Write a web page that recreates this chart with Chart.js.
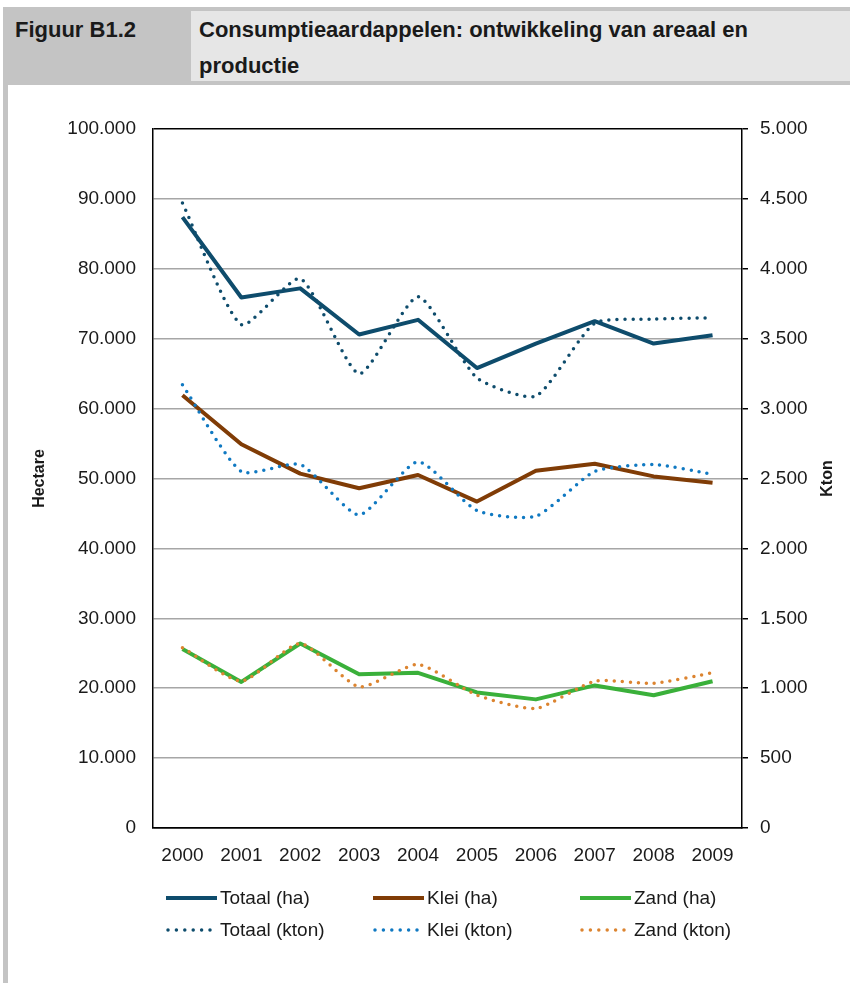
<!DOCTYPE html>
<html>
<head>
<meta charset="utf-8">
<script src="https://cdn.jsdelivr.net/npm/chart.js@4.4.1/dist/chart.umd.min.js"></script>
<style>
  body { margin: 0; width: 850px; height: 983px; overflow: hidden; background: #fff; position: relative;
         font-family: "Liberation Sans", Arial, sans-serif; color: #1a1a1a; }
  #wrap { position: absolute; left: 0; top: 0; width: 850px; height: 983px; }
  .hdr { position: absolute; left: 3px; top: 7px; width: 847px; height: 78px; background: #c4c4c4; }
  .hdr-cell { position: absolute; left: 191px; top: 11px; width: 659px; height: 70px; background: #e6e6e6; }
  .side { position: absolute; left: 3px; top: 85px; width: 5px; height: 898px; background: #c4c4c4; }
  .htxt { position: absolute; top: 12px; font-weight: bold; font-size: 22px; line-height: 35.5px; color: #1a1a1a; white-space: nowrap; }
  #legend { position: absolute; left: 166px; top: 882px; display: grid; grid-template-columns: repeat(3, 207px);
            grid-auto-rows: 32px; align-items: center; font-size: 19px; }
  #legend .item { display: flex; align-items: center; }
  #legend svg { display: block; }
</style>
</head>
<body>
<div id="wrap"><canvas id="chart" width="850" height="983"></canvas></div>
<div class="hdr"></div>
<div class="hdr-cell"></div>
<div class="side"></div>
<div class="htxt" style="left:15px">Figuur B1.2</div>
<div class="htxt" style="left:199px">Consumptieaardappelen: ontwikkeling van areaal en<br>productie</div>
<div id="legend"></div>
<script>
// data
const years = ['2000', '2001', '2002', '2003', '2004', '2005', '2006', '2007', '2008', '2009'];
const totaalHa = [87400, 75900, 77200, 70600, 72700, 65800, 69300, 72500, 69300, 70500];
const kleiHa = [61900, 54900, 50700, 48600, 50500, 46700, 51100, 52100, 50300, 49400];
const zandHa = [25600, 20900, 26400, 22000, 22200, 19400, 18400, 20400, 19000, 21000];
const totaalKton = [4470, 3600, 3930, 3250, 3800, 3220, 3090, 3610, 3640, 3650];
const kleiKton = [3170, 2550, 2600, 2240, 2620, 2270, 2230, 2550, 2600, 2530];
const zandKton = [1290, 1050, 1320, 1010, 1170, 950, 855, 1050, 1035, 1110];

const fmt = v => String(v).replace(/\B(?=(\d{3})+(?!\d))/g, '.');

function solid(label, data, color) {
  return { label, data, borderColor: color, backgroundColor: color, borderWidth: 4,
           pointRadius: 0, tension: 0, borderJoinStyle: 'round', yAxisID: 'y', order: 2 };
}
function dotted(label, data, color) {
  return { label, data, borderColor: color, backgroundColor: color, borderWidth: 3.5,
           borderDash: [0, 8], borderCapStyle: 'round', pointRadius: 0, tension: 0.2,
           yAxisID: 'y2', order: 1 };
}

Chart.defaults.font.family = '"Liberation Sans", Arial, sans-serif';
Chart.defaults.color = '#1a1a1a';

const axisTitles = {
  id: 'axisTitles',
  afterDraw(chart) {
    const { ctx, chartArea } = chart;
    const cy = (chartArea.top + chartArea.bottom) / 2;
    ctx.save();
    ctx.font = 'bold 16px "Liberation Sans", Arial, sans-serif';
    ctx.fillStyle = '#1a1a1a';
    ctx.textAlign = 'center';
    ctx.textBaseline = 'middle';
    [[chart.scales.y.left + 40, 'Hectare'], [chart.scales.y2.right - 22, 'Kton']].forEach(([x, t]) => {
      ctx.save();
      ctx.translate(x, cy);
      ctx.rotate(-Math.PI / 2);
      ctx.fillText(t, 0, 0);
      ctx.restore();
    });
    ctx.restore();
  }
};

const chart = new Chart(document.getElementById('chart'), {
  type: 'line',
  data: {
    labels: years,
    datasets: [
      solid('Totaal (ha)', totaalHa, '#0e4c6c'),
      solid('Klei (ha)', kleiHa, '#803c06'),
      solid('Zand (ha)', zandHa, '#3ab03a'),
      dotted('Totaal (kton)', totaalKton, '#0e4c6c'),
      dotted('Klei (kton)', kleiKton, '#1079c2'),
      dotted('Zand (kton)', zandKton, '#dc8430')
    ]
  },
  options: {
    responsive: false,
    animation: false,
    devicePixelRatio: 1,
    layout: { autoPadding: false, padding: { left: 0, right: 0, top: 129, bottom: 110 } },
    plugins: { legend: { display: false }, tooltip: { enabled: false } },
    scales: {
      x: {
        offset: true,
        grid: { display: false, drawTicks: false },
        border: { display: true, color: '#000', width: 1.5 },
        ticks: { font: { size: 19 }, padding: 16, maxRotation: 0 },
        afterFit(s) { s.height = 45; }
      },
      y: {
        position: 'left', min: 0, max: 100000,
        ticks: { stepSize: 10000, callback: fmt, padding: 17, font: { size: 19 } },
        grid: {
          drawTicks: false, lineWidth: 1.5,
          color: c => (c.tick.value === 100000 || c.tick.value === 0) ? '#000' : '#a6a6a6'
        },
        border: { color: '#000', width: 1.5 },
        afterFit(s) { s.width = 153; }
      },
      y2: {
        position: 'right', min: 0, max: 5000,
        ticks: { stepSize: 500, callback: fmt, padding: 12, font: { size: 19 } },
        grid: { drawOnChartArea: false, drawTicks: true, tickLength: 6, color: '#000', lineWidth: 1.5 },
        border: { color: '#000', width: 1.5 },
        afterFit(s) { s.width = 108; }
      }
    }
  },
  plugins: [axisTitles]
});

// legend in a 3 x 2 grid, built from the datasets
const legendEl = document.getElementById('legend');
chart.data.datasets.forEach(ds => {
  const item = document.createElement('div');
  item.className = 'item';
  const dash = ds.borderDash ? `stroke-dasharray="0 8.4" stroke-linecap="round"` : '';
  const x1 = ds.borderDash ? 2 : 0, x2 = ds.borderDash ? 44 : 51;
  item.innerHTML = `<svg width="54" height="10"><line x1="${x1}" y1="5" x2="${x2}" y2="5" stroke="${ds.borderColor}" stroke-width="${ds.borderWidth}" ${dash}/></svg><span>${ds.label}</span>`;
  legendEl.appendChild(item);
});
</script>
</body>
</html>
